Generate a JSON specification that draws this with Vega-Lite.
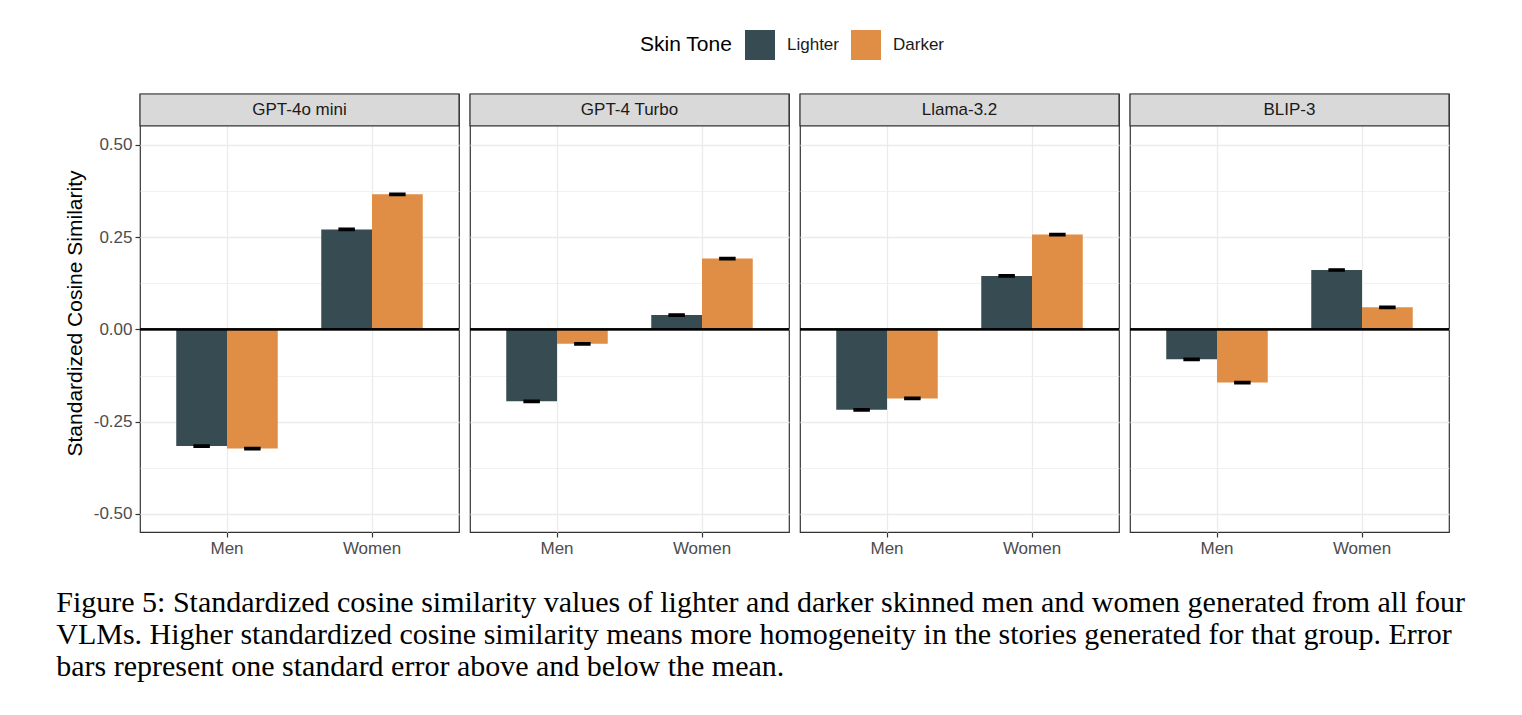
{
  "$schema": "https://vega.github.io/schema/vega-lite/v6.json",
  "padding": {"left": 56, "top": 30, "right": 10, "bottom": 10},
  "background": "white",
  "bounds": "flush",
  "config": {
    "font": "Liberation Sans",
    "view": {"stroke": "#333333", "strokeWidth": 1.2}
  },
  "title": {
    "text": [
      "Figure 5: Standardized cosine similarity values of lighter and darker skinned men and women generated from all four",
      "VLMs. Higher standardized cosine similarity means more homogeneity in the stories generated for that group. Error",
      "bars represent one standard error above and below the mean."
    ],
    "orient": "bottom",
    "anchor": "start",
    "frame": "bounds",
    "font": "Liberation Serif",
    "fontSize": 30,
    "fontWeight": "normal",
    "color": "#000000",
    "lineHeight": 32,
    "offset": 32,
    "dx": -8
  },
  "data": {
    "values": [
      {"model": "GPT-4o mini", "group": "Men", "skin": "Lighter", "value": -0.316, "lo": -0.319, "hi": -0.313},
      {"model": "GPT-4o mini", "group": "Men", "skin": "Darker", "value": -0.323, "lo": -0.326, "hi": -0.320},
      {"model": "GPT-4o mini", "group": "Women", "skin": "Lighter", "value": 0.271, "lo": 0.268, "hi": 0.274},
      {"model": "GPT-4o mini", "group": "Women", "skin": "Darker", "value": 0.366, "lo": 0.363, "hi": 0.369},
      {"model": "GPT-4 Turbo", "group": "Men", "skin": "Lighter", "value": -0.195, "lo": -0.198, "hi": -0.192},
      {"model": "GPT-4 Turbo", "group": "Men", "skin": "Darker", "value": -0.039, "lo": -0.042, "hi": -0.036},
      {"model": "GPT-4 Turbo", "group": "Women", "skin": "Lighter", "value": 0.039, "lo": 0.036, "hi": 0.042},
      {"model": "GPT-4 Turbo", "group": "Women", "skin": "Darker", "value": 0.192, "lo": 0.189, "hi": 0.195},
      {"model": "Llama-3.2", "group": "Men", "skin": "Lighter", "value": -0.218, "lo": -0.221, "hi": -0.215},
      {"model": "Llama-3.2", "group": "Men", "skin": "Darker", "value": -0.187, "lo": -0.190, "hi": -0.184},
      {"model": "Llama-3.2", "group": "Women", "skin": "Lighter", "value": 0.145, "lo": 0.142, "hi": 0.148},
      {"model": "Llama-3.2", "group": "Women", "skin": "Darker", "value": 0.257, "lo": 0.254, "hi": 0.260},
      {"model": "BLIP-3", "group": "Men", "skin": "Lighter", "value": -0.081, "lo": -0.084, "hi": -0.078},
      {"model": "BLIP-3", "group": "Men", "skin": "Darker", "value": -0.144, "lo": -0.147, "hi": -0.141},
      {"model": "BLIP-3", "group": "Women", "skin": "Lighter", "value": 0.161, "lo": 0.158, "hi": 0.164},
      {"model": "BLIP-3", "group": "Women", "skin": "Darker", "value": 0.060, "lo": 0.057, "hi": 0.063}
    ]
  },
  "facet": {
    "column": {
      "field": "model",
      "type": "nominal",
      "sort": ["GPT-4o mini", "GPT-4 Turbo", "Llama-3.2", "BLIP-3"],
      "header": {"title": null, "labels": false}
    }
  },
  "spacing": 11,
  "spec": {
    "width": 319,
    "height": 438,
    "layer": [
      {
        "mark": {"type": "bar"},
        "encoding": {
          "x": {
            "field": "group",
            "type": "nominal",
            "sort": ["Men", "Women"],
            "scale": {"paddingInner": 0.3, "paddingOuter": 0.25},
            "axis": {
              "title": null,
              "labelAngle": 0,
              "labelFontSize": 17,
              "labelColor": "#4D4D4D",
              "labelPadding": 3,
              "tickSize": 5,
              "tickColor": "#333333",
              "tickWidth": 1.2,
              "domain": false,
              "grid": true,
              "bandPosition": 0.5,
              "gridColor": "#EBEBEB",
              "gridWidth": 1.3
            }
          },
          "y": {
            "field": "value",
            "type": "quantitative",
            "scale": {"domain": [-0.549, 0.638], "nice": false, "zero": false},
            "axis": {
              "title": "Standardized Cosine Similarity",
              "titleFontSize": 21,
              "titleFontWeight": "normal",
              "titleColor": "#000000",
              "titlePadding": 8,
              "values": [-0.5, -0.375, -0.25, -0.125, 0, 0.125, 0.25, 0.375, 0.5],
              "labelExpr": "abs(datum.value*4 - round(datum.value*4)) > 0.01 ? '' : replace(format(datum.value, '.2f'), '\u2212', '-')",
              "labelFontSize": 17,
              "labelColor": "#4D4D4D",
              "labelPadding": 3,
              "tickSize": 5,
              "tickColor": "#333333",
              "tickWidth": 1.2,
              "tickOpacity": {"condition": {"test": "abs(datum.value*4 - round(datum.value*4)) > 0.01", "value": 0}, "value": 1},
              "domain": false,
              "grid": true,
              "gridColor": "#EBEBEB",
              "gridWidth": {"condition": {"test": "abs(datum.value*4 - round(datum.value*4)) > 0.01", "value": 0.7}, "value": 1.3}
            }
          },
          "xOffset": {"field": "skin", "type": "nominal", "sort": ["Lighter", "Darker"]},
          "color": {
            "field": "skin",
            "type": "nominal",
            "scale": {"domain": ["Lighter", "Darker"], "range": ["#364B52", "#E08E45"]},
            "legend": {
              "title": "Skin Tone",
              "orient": "none",
              "legendX": 500,
              "legendY": -64,
              "direction": "horizontal",
              "titleOrient": "left",
              "titleFontSize": 21,
              "titleFontWeight": "normal",
              "titleColor": "#000000",
              "labelFontSize": 17,
              "labelColor": "#1A1A1A",
              "symbolType": "square",
              "symbolSize": 900,
              "symbolStrokeWidth": 0,
              "symbolOpacity": 1,
              "columnPadding": 12,
              "labelOffset": 12,
              "titlePadding": 12
            }
          }
        }
      },
      {
        "mark": {"type": "bar", "color": "#000000", "stroke": "#000000", "strokeWidth": 1.5, "width": 15},
        "encoding": {
          "x": {"field": "group", "type": "nominal", "sort": ["Men", "Women"]},
          "y": {"field": "lo", "type": "quantitative"},
          "y2": {"field": "hi"},
          "xOffset": {"field": "skin", "type": "nominal", "sort": ["Lighter", "Darker"]}
        }
      },
      {
        "mark": {"type": "rule", "color": "#000000", "strokeWidth": 1.6},
        "encoding": {"y": {"datum": 0}}
      },
      {
        "transform": [{"aggregate": [], "groupby": ["model"]}],
        "mark": {"type": "rect", "fill": "#D9D9D9", "stroke": "#333333", "strokeWidth": 1.2},
        "encoding": {"y": {"datum": 0.5515}, "y2": {"datum": 0.638}}
      },
      {
        "transform": [{"aggregate": [], "groupby": ["model"]}],
        "mark": {"type": "text", "fontSize": 17, "color": "#1A1A1A", "baseline": "middle", "align": "center"},
        "encoding": {"y": {"datum": 0.5948}, "text": {"field": "model"}}
      }
    ]
  }
}
